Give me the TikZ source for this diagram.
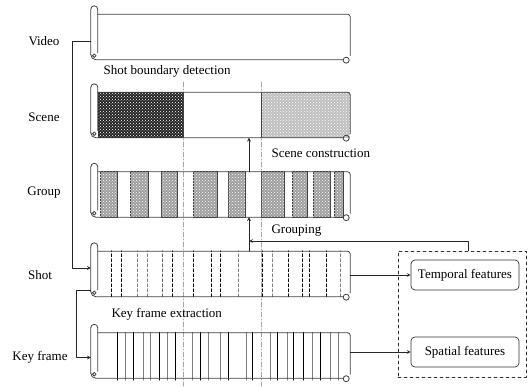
\documentclass[tikz,border=0pt]{standalone}
\usepackage{fontspec}
\setmainfont{Liberation Serif}
\usetikzlibrary{patterns}
\tikzset{
  strip/.style={minimum width=252pt,minimum height=45pt,inner sep=0pt},
  rollline/.style={black!75,line width=0.8pt},
  conn/.style={black!85,line width=0.7pt},
  cutline/.style={gray!70,line width=0.8pt,dash pattern=on 5pt off 2pt on 1pt off 2pt},
  shotline/.style={line width=0.7pt,dash pattern=on 3pt off 2pt},
  blockfill/.style={draw=black!75,line width=0.7pt,fill=gray!75,postaction={pattern=crosshatch dots,pattern color=white}},
  feat/.style={draw=black!80,line width=0.7pt,rounded corners=4pt,minimum width=108pt,minimum height=30pt}
}
\newcommand{\filmroll}[1]{%
  \draw[rollline,rounded corners=2.5pt] (#1.north west) -- (#1.north east) -- ([yshift=4pt]#1.south east);
  \draw[rollline] ([xshift=-7pt,yshift=5pt]#1.south west) -- ([xshift=-7pt,yshift=5pt]#1.north west) arc (180:0:3.5pt) -- ([yshift=7pt]#1.south west);
  \draw[rollline] ([xshift=-7pt,yshift=5pt]#1.south west) to[out=-90,in=180] ([xshift=-2pt]#1.south west) -- ([xshift=-7pt]#1.south east);
  \draw[rollline] ([xshift=-3.5pt,yshift=4pt]#1.south west) circle (1.8pt);
  \draw[rollline] ([xshift=-4pt,yshift=-0.5pt]#1.south east) circle (3pt);
}
\begin{document}
\begin{tikzpicture}[x=1pt,y=1pt,line join=round,line cap=round,>=stealth,font=\fontsize{13}{15}\selectfont]
\useasboundingbox (0,0) rectangle (528,386);
\coordinate (b1) at (183,0);
\coordinate (b2) at (261,0);
\coordinate (gx) at (249,0);
\node[strip] (video) at (224,349) {};
\node[strip] (scene) at (224,271) {};
\node[strip] (group) at (224,191.5) {};
\node[strip] (shot) at (224,112) {};
\node[strip] (kframe) at (224,30.5) {};
% cut lines
\draw[cutline] (b1 |- 0,304) -- (b1);
\draw[cutline] (b2 |- 0,304) -- (b2);
% scene
\fill[black!85] (scene.south west) rectangle (scene.north -| b1);
\fill[pattern=crosshatch dots,pattern color=white] (scene.south west) rectangle (scene.north -| b1);
\fill[gray!50] (scene.south -| b2) rectangle (scene.north east);
\fill[pattern=crosshatch dots,pattern color=white] (scene.south -| b2) rectangle (scene.north east);
\draw[rollline] (scene.south -| b1) -- (scene.north -| b1) (scene.south -| b2) -- (scene.north -| b2);
% group
\foreach \a/\b in {100/117,130/148,161/177,193/217,228/245,261/284,292/307,313/330,334/343}
  {\draw[blockfill] (\a,0 |- group.south) rectangle (\b,0 |- group.north);}
% shot
\foreach \x/\c in {111/black,121/black,137/gray,147/gray,162/black!60,172/black,193/black,211/black,220/black,238/gray,262/black,272/gray,288/black,302/black,309/black,326/black,340/gray}
  {\draw[shotline,\c] (\x,0 |- shot.south) -- +(0,46);}
% key frame
\foreach \x/\c in {117/black,125/gray,133/black,143/gray,150/gray,159/black,167/gray,175/black,192/gray,200/black,208/gray,220/gray,228/black,246/gray,252/black,270/gray,277/black,287/gray,293/black,303/black,312/gray,320/black,330/gray,338/gray}
  {\draw[\c,line width=0.6pt] (\x,0 |- kframe.south) ++(0,-2) -- +(0,48);}
\foreach \s in {video,scene,group,shot,kframe} {\filmroll{\s}}
% labels
\node (lvideo) at (44,345) {Video};
\node (lscene) at (44,269) {Scene};
\node (lgroup) at (44,193) {Group};
\node (lshot) at (40,111) {Shot};
\node (lkframe) at (40,29) {Key frame};
\node[anchor=west] (sbd) at (100,315) {Shot boundary detection};
\node[anchor=west] (scons) at (268,233) {Scene construction};
\node[anchor=west] (grping) at (268,155) {Grouping};
\node[anchor=west] (kfe) at (108,72) {Key frame extraction};
\node[draw=black!80,line width=0.7pt,dashed,minimum width=128pt,minimum height=126pt] (featbox) at (462,72) {};
\node[feat] (temporal) at (465,111) {Temporal features};
\node[feat] (spatial) at (465,34) {Spatial features};
% connectors
\draw[conn,->] ([xshift=-7pt,yshift=-4pt]video.west) -| ([xshift=-25pt,yshift=6pt]shot.west) -- ([xshift=-7pt,yshift=6pt]shot.west);
\draw[conn,->] ([xshift=-7pt,yshift=-16pt]shot.west) -| ([xshift=-21pt,yshift=-2pt]kframe.west) -- ([xshift=-7pt,yshift=-2pt]kframe.west);
\draw[conn,->] (gx |- shot.north) -- (gx |- group.south);
\draw[conn,->] (gx |- group.north) -- (gx |- scene.south);
\draw[conn,->] (featbox.north -| 468,0) |- (gx |- 0,145);
\draw[conn,->] (shot.east |- temporal) -- (temporal);
\draw[conn,->] (kframe.east |- spatial) -- (spatial);
\end{tikzpicture}
\end{document}
